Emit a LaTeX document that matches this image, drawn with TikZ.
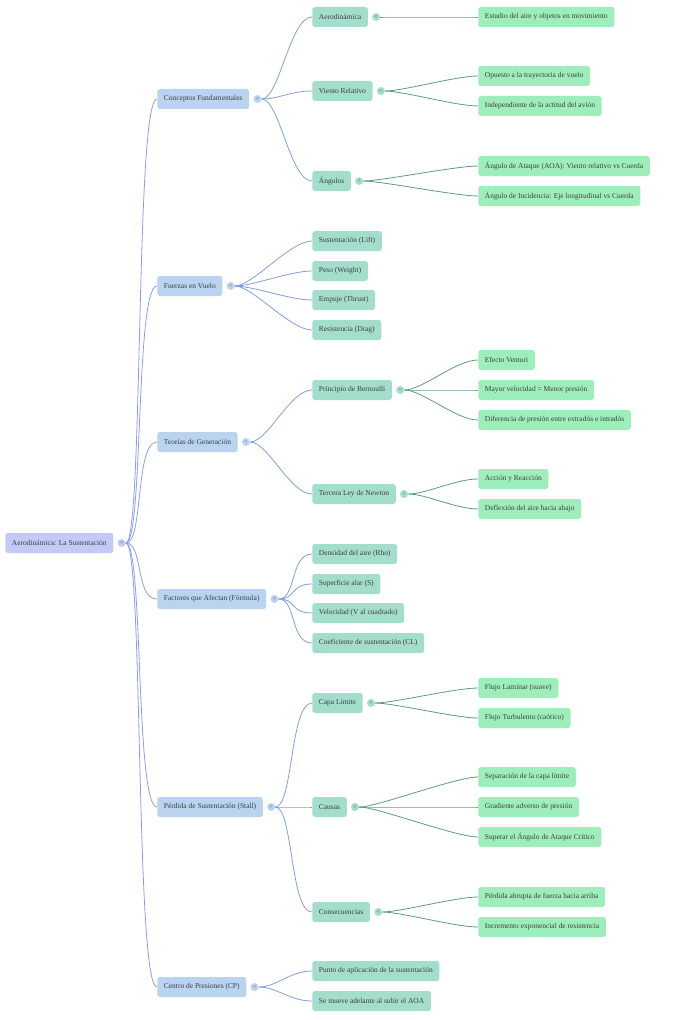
\documentclass[tikz,border=0pt]{standalone}
\usepackage{fontspec}
\setmainfont{Liberation Serif}
\usetikzlibrary{positioning}
\definecolor{rootfill}{HTML}{C5C9F8}
\definecolor{onefill}{HTML}{B9D3F1}
\definecolor{twofill}{HTML}{A3DDCB}
\definecolor{threefill}{HTML}{9DEEBB}
\definecolor{rootline}{HTML}{8C9CF0}
\definecolor{oneline}{HTML}{7F9FDD}
\definecolor{twoline}{HTML}{5E9A82}
\definecolor{txt}{HTML}{3F3F3F}
\tikzset{
  box/.style={draw=none, rounded corners=2pt, minimum height=15pt, inner xsep=5pt,
    anchor=west, text=txt, font=\fontsize{5.6}{6.5}\selectfont},
  rootbox/.style={box, fill=rootfill},
  onebox/.style={box, fill=onefill},
  twobox/.style={box, fill=twofill},
  threebox/.style={box, fill=threefill},
  knob/.style={circle, minimum size=6pt, inner sep=0pt, fill=#1, text=txt,
    font=\fontsize{4}{4}\selectfont},
  link/.style={line width=0.6pt, draw=#1}
}
\newcommand{\branch}[3]{\draw[link=#3] (#1) .. controls +(22,0) and +(-22,0) .. (#2.west);}

\begin{document}
\begin{tikzpicture}[x=0.75pt,y=0.75pt,yscale=-1,xscale=1]
\useasboundingbox (0,0) rectangle (680,1020);

% Root
\node[rootbox] (root) at (5,543) {Aerodinámica: La Sustentación};
\node[knob=rootfill] (rootk) at ([xshift=6pt]root.east) {<};

% Level one
\node[onebox] (conc) at (157,99) {Conceptos Fundamentales};
\node[onebox] (fuer) at (157,286) {Fuerzas en Vuelo};
\node[onebox] (teor) at (157,442) {Teorías de Generación};
\node[onebox] (fact) at (157,599) {Factores que Afectan (Fórmula)};
\node[onebox] (perd) at (157,807) {Pérdida de Sustentación (Stall)};
\node[onebox] (cent) at (157,987) {Centro de Presiones (CP)};
\foreach \n in {conc,fuer,teor,fact,perd,cent}
  \node[knob=onefill] (\n k) at ([xshift=6pt]\n.east) {<};

% Level two
\node[twobox] (aero) at (312,17) {Aerodinámica};
\node[twobox] (vien) at (312,91) {Viento Relativo};
\node[twobox] (angu) at (312,181) {Ángulos};
\node[twobox] (lift) at (312,241) {Sustentación (Lift)};
\node[twobox] (peso) at (312,271) {Peso (Weight)};
\node[twobox] (empu) at (312,300) {Empuje (Thrust)};
\node[twobox] (drag) at (312,330) {Resistencia (Drag)};
\node[twobox] (bern) at (312,390) {Principio de Bernoulli};
\node[twobox] (newt) at (312,494) {Tercera Ley de Newton};
\node[twobox] (dens) at (312,554) {Densidad del aire (Rho)};
\node[twobox] (supe) at (312,584) {Superficie alar (S)};
\node[twobox] (velo) at (312,613) {Velocidad (V al cuadrado)};
\node[twobox] (coef) at (312,643) {Coeficiente de sustentación (CL)};
\node[twobox] (capa) at (312,703) {Capa Límite};
\node[twobox] (caus) at (312,807) {Causas};
\node[twobox] (cons) at (312,912) {Consecuencias};
\node[twobox] (punt) at (312,971) {Punto de aplicación de la sustentación};
\node[twobox] (muev) at (312,1001) {Se mueve adelante al subir el AOA};
\foreach \n in {aero,vien,angu,bern,newt,capa,caus,cons}
  \node[knob=twofill] (\n k) at ([xshift=6pt]\n.east) {<};

% Level three
\node[threebox] (estu) at (478,17) {Estudio del aire y objetos en movimiento};
\node[threebox] (opue) at (478,76) {Opuesto a la trayectoria de vuelo};
\node[threebox] (inde) at (478,106) {Independiente de la actitud del avión};
\node[threebox] (ataq) at (478,166) {Ángulo de Ataque (AOA): Viento relativo vs Cuerda};
\node[threebox] (inci) at (478,196) {Ángulo de Incidencia: Eje longitudinal vs Cuerda};
\node[threebox] (vent) at (478,360) {Efecto Venturi};
\node[threebox] (mayo) at (478,390) {Mayor velocidad = Menor presión};
\node[threebox] (dife) at (478,420) {Diferencia de presión entre extradós e intradós};
\node[threebox] (acci) at (478,479) {Acción y Reacción};
\node[threebox] (defl) at (478,509) {Deflexión del aire hacia abajo};
\node[threebox] (lami) at (478,688) {Flujo Laminar (suave)};
\node[threebox] (turb) at (478,718) {Flujo Turbulento (caótico)};
\node[threebox] (sepa) at (478,777) {Separación de la capa límite};
\node[threebox] (grad) at (478,807) {Gradiente adverso de presión};
\node[threebox] (crit) at (478,837) {Superar el Ángulo de Ataque Crítico};
\node[threebox] (abru) at (478,897) {Pérdida abrupta de fuerza hacia arriba};
\node[threebox] (expo) at (478,927) {Incremento exponencial de resistencia};

% Connectors
\foreach \c in {conc,fuer,teor,fact,perd,cent} {\branch{rootk}{\c}{rootline}}
\foreach \c in {aero,vien,angu} {\branch{conck}{\c}{oneline}}
\foreach \c in {lift,peso,empu,drag} {\branch{fuerk}{\c}{oneline}}
\foreach \c in {bern,newt} {\branch{teork}{\c}{oneline}}
\foreach \c in {dens,supe,velo,coef} {\branch{factk}{\c}{oneline}}
\foreach \c in {capa,caus,cons} {\branch{perdk}{\c}{oneline}}
\foreach \c in {punt,muev} {\branch{centk}{\c}{oneline}}
\branch{aerok}{estu}{twoline}
\foreach \c in {opue,inde} {\branch{vienk}{\c}{twoline}}
\foreach \c in {ataq,inci} {\branch{anguk}{\c}{twoline}}
\foreach \c in {vent,mayo,dife} {\branch{bernk}{\c}{twoline}}
\foreach \c in {acci,defl} {\branch{newtk}{\c}{twoline}}
\foreach \c in {lami,turb} {\branch{capak}{\c}{twoline}}
\foreach \c in {sepa,grad,crit} {\branch{causk}{\c}{twoline}}
\foreach \c in {abru,expo} {\branch{consk}{\c}{twoline}}

\end{tikzpicture}
\end{document}
